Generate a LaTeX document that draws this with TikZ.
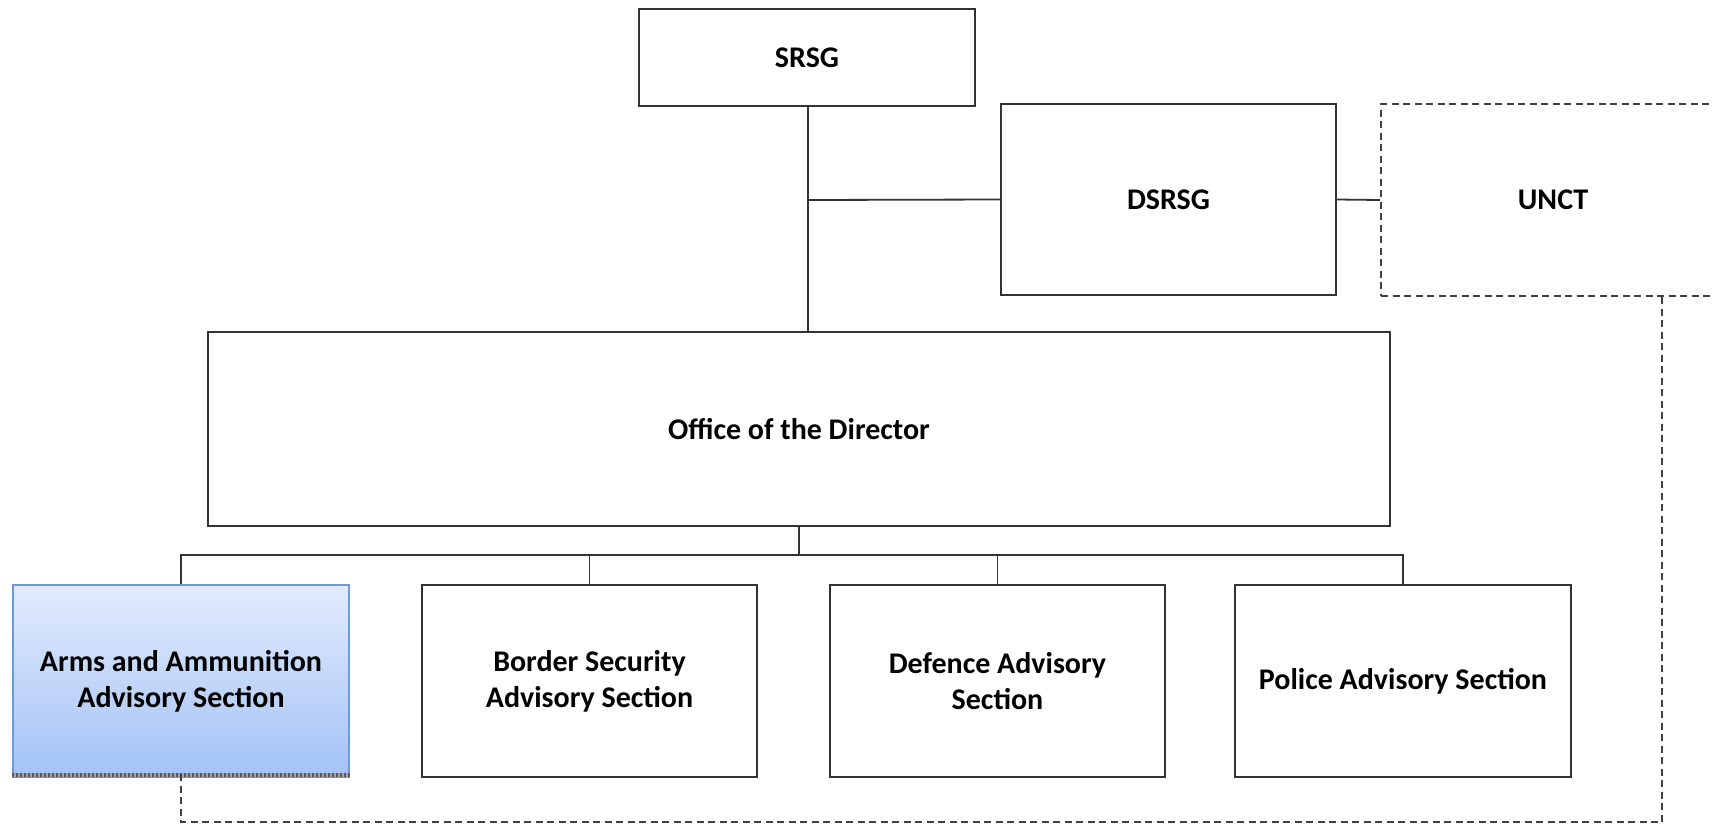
\documentclass[tikz,border=0pt]{standalone}
\usepackage{fontspec}
\setmainfont{Carlito}
\definecolor{linec}{HTML}{333333}
\definecolor{dashc}{HTML}{404040}
\definecolor{bluetop}{HTML}{E2EBFC}
\definecolor{bluebot}{HTML}{A3C2F7}
\definecolor{blueborder}{HTML}{6E9BD8}
\tikzset{
  box/.style={draw=linec, line width=1.6pt, fill=white, rectangle, inner sep=0pt, align=center,
    font=\bfseries\fontsize{30}{36}\selectfont, text=black},
  link/.style={draw=linec, line width=1.8pt},
  dlink/.style={draw=dashc, line width=2pt, dash pattern=on 7pt off 4.5pt},
}
\begin{document}
\begin{tikzpicture}[x=1pt,y=-1pt]
\useasboundingbox (0,0) rectangle (1714,825);
\clip (0,0) rectangle (1714,825);
\fill[white] (0,0) rectangle (1714,825);

\node[box, minimum width=336pt, minimum height=97pt] (srsg) at (807,57.5) {SRSG};
\node[box, minimum width=335pt, minimum height=191pt] (dsrsg) at (1168.5,199.5) {DSRSG};
\node[box, dlink, minimum width=344pt, minimum height=192pt] (unct) at (1553,200) {UNCT};
\node[box, minimum width=1182pt, minimum height=194pt] (office) at (799,429) {Office of the Director};

\node[box, draw=blueborder, top color=bluetop, bottom color=bluebot, minimum width=336pt, minimum height=192pt] (arms) at (181,681) {Arms and Ammunition\\Advisory Section};
\node[box, minimum width=335pt, minimum height=192pt] (border) at (589.5,681) {Border Security\\Advisory Section};
\node[box, minimum width=335pt, minimum height=192pt] (defence) at (997.5,681) {Defence Advisory\\Section};
\node[box, minimum width=336pt, minimum height=192pt] (police) at (1403,681) {Police Advisory Section};

% hatched bottom edge of the blue box
\draw[line width=3.5pt, draw=black!35] ([yshift=3pt]arms.south west) -- ([yshift=3pt]arms.south east);
\draw[line width=3.5pt, draw=black!65, dash pattern=on 1.5pt off 2.5pt] ([yshift=3pt]arms.south west) -- ([yshift=3pt]arms.south east);

% top connectors
\coordinate (j1) at (808,200);
\draw[link] (808,106) -- (808,332);
\draw[link] (j1) -- (dsrsg.west);
\draw[link] (dsrsg.east) -- (unct.west);

% bottom bus
\coordinate (bus) at (799,555);
\draw[link] (office.south) -- (bus);
\draw[link] (arms.north) |- (police.north |- bus) -- (police.north);
\draw[link] (border.north) -- (border.north |- bus);
\draw[link] (bus) -| (defence.north);

% dashed link UNCT -> arms
\coordinate (dc) at (1662,822);
\draw[dlink] (unct.south -| dc) -- (dc) -- (dc -| arms.south) -- ([yshift=4pt]arms.south);
\end{tikzpicture}
\end{document}
